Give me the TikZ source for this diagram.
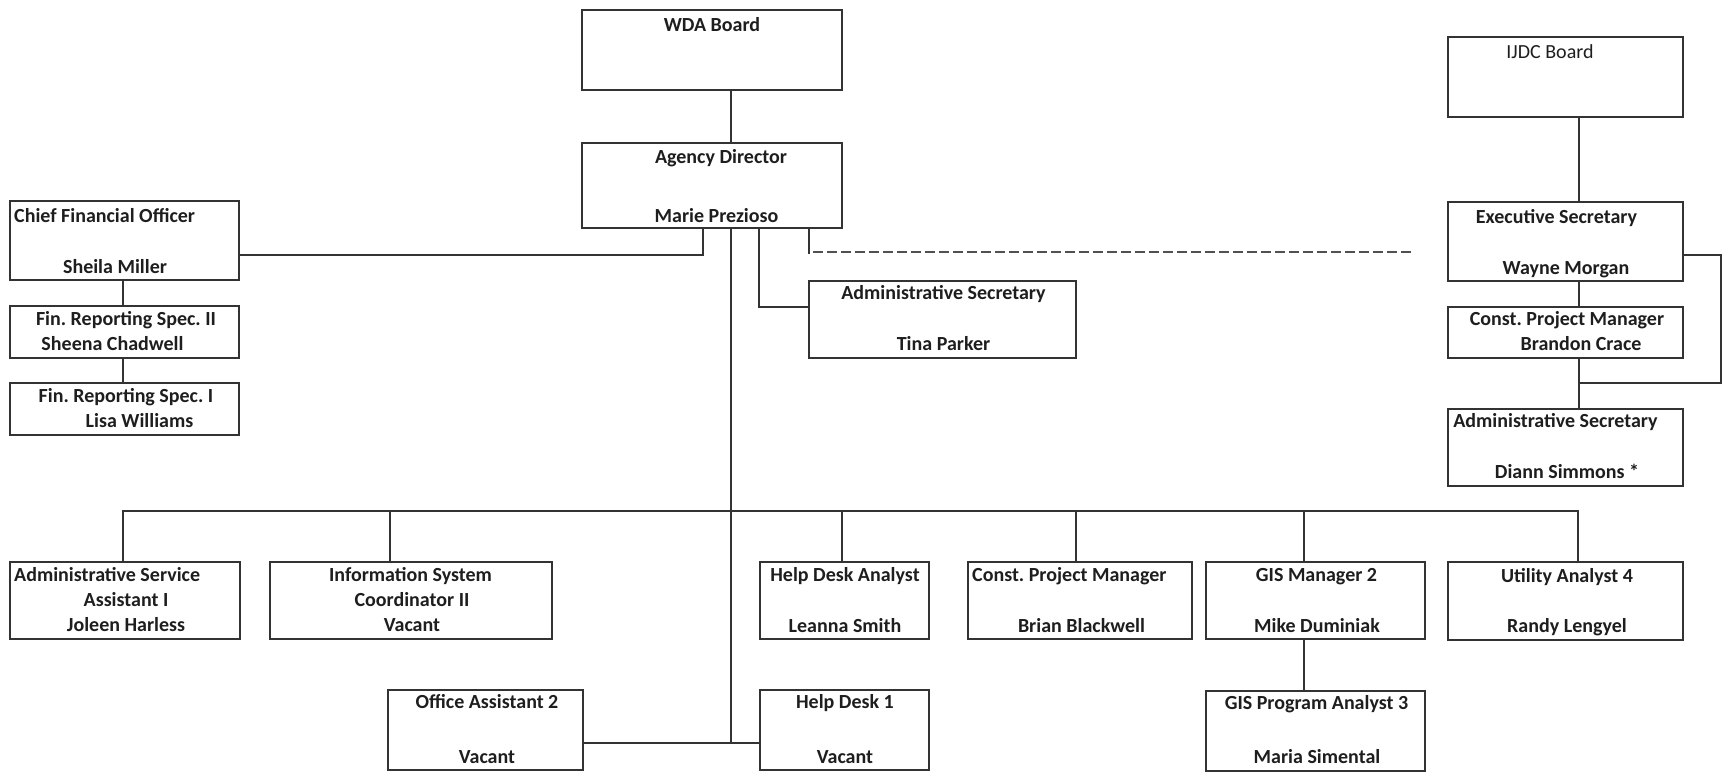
\documentclass[tikz,border=0pt]{standalone}
\usepackage{fontspec}
\setmainfont{Carlito}
\usetikzlibrary{calc}
\definecolor{ln}{HTML}{333333}
\definecolor{dln}{HTML}{505050}
\definecolor{tx}{HTML}{1E1E1E}
\tikzset{
  x=1pt, y=-1pt,
  box/.style={draw=ln, line width=1.6pt, anchor=north west, inner sep=0pt, outer sep=0pt},
  t/.style={anchor=base, inner sep=0pt, font=\bfseries\fontsize{20}{24}\selectfont\frenchspacing, text=tx},
  tl/.style={t, anchor=base west},
  treg/.style={anchor=base, inner sep=0pt, font=\fontsize{20}{24}\selectfont, text=tx},
  conn/.style={draw=ln, line width=1.6pt},
  dconn/.style={draw=dln, line width=1.3pt, dash pattern=on 9.5pt off 4.5pt},
}
\begin{document}
\frenchspacing
\begin{tikzpicture}
\fill[white] (0,0) rectangle (1722,774);
\useasboundingbox (0,0) rectangle (1722,774);

% boxes
\node[box, minimum width=260pt, minimum height=80pt] (wda) at (582,10) {};
\node[box, minimum width=260pt, minimum height=85pt] (agency) at (582,143) {};
\node[box, minimum width=229pt, minimum height=79pt] (cfo) at (10,201) {};
\node[box, minimum width=229pt, minimum height=52pt] (fin2) at (10,306) {};
\node[box, minimum width=229pt, minimum height=52pt] (fin1) at (10,383) {};
\node[box, minimum width=267pt, minimum height=77pt] (tina) at (809,281) {};
\node[box, minimum width=235pt, minimum height=80pt] (ijdc) at (1448,37) {};
\node[box, minimum width=235pt, minimum height=79pt] (exec) at (1448,202) {};
\node[box, minimum width=235pt, minimum height=51pt] (brandon) at (1448,307) {};
\node[box, minimum width=235pt, minimum height=77pt] (diann) at (1448,409) {};
\node[box, minimum width=230pt, minimum height=77pt] (ads) at (10,562) {};
\node[box, minimum width=282pt, minimum height=77pt] (isc) at (270,562) {};
\node[box, minimum width=169pt, minimum height=77pt] (hda) at (760,562) {};
\node[box, minimum width=224pt, minimum height=77pt] (brian) at (968,562) {};
\node[box, minimum width=219pt, minimum height=77pt] (gism) at (1206,562) {};
\node[box, minimum width=235pt, minimum height=78pt] (util) at (1448,562) {};
\node[box, minimum width=195pt, minimum height=80pt] (oa) at (388,690) {};
\node[box, minimum width=169pt, minimum height=80pt] (hd) at (760,690) {};
\node[box, minimum width=219pt, minimum height=80pt] (gisp) at (1206,691) {};

% junction coordinates
\coordinate (mx) at (731,0);
\coordinate (cfoj) at (703,255);
\coordinate (tj) at (759,307);
\coordinate (dj) at (809,254);
\coordinate (dend) at (1414,252);
\coordinate (bot) at (731,743);
\coordinate (b1) at (123,511);
\coordinate (b2) at (390,511);
\coordinate (b3) at (842,511);
\coordinate (b4) at (1076,511);
\coordinate (b5) at (1304,511);
\coordinate (b6) at (1578,511);
\coordinate (rx) at (1579,0);
\coordinate (lp1) at (1721,255);
\coordinate (lp2) at (1721,383);

% connectors
\draw[conn] (wda.south -| mx) -- (agency.north -| mx);
\draw[conn] (agency.south -| cfoj) -- (cfoj) -- (cfoj -| cfo.east);
\draw[conn] (agency.south -| tj) -- (tj) -- (tj -| tina.west);
\draw[conn] (agency.south -| dj) -- (dj);
\draw[dconn] ([xshift=4pt]dj |- dend) -- (dend);
\draw[conn] (agency.south -| mx) -- (bot);
\draw[conn] (oa.east |- bot) -- (hd.west |- bot);
\draw[conn] (ads.north -| b1) -- (b1) -- (b6) -- (util.north -| b6);
\draw[conn] (b2) -- (isc.north -| b2);
\draw[conn] (b3) -- (hda.north -| b3);
\draw[conn] (b4) -- (brian.north -| b4);
\draw[conn] (b5) -- (gism.north -| b5);
\draw[conn] (gism.south -| b5) -- (gisp.north -| b5);
\draw[conn] (cfo.south -| b1) -- (fin2.north -| b1);
\draw[conn] (fin2.south -| b1) -- (fin1.north -| b1);
\draw[conn] (ijdc.south -| rx) -- (exec.north -| rx);
\draw[conn] (exec.south -| rx) -- (brandon.north -| rx);
\draw[conn] (brandon.south -| rx) -- (diann.north -| rx);
\draw[conn] (exec.east |- lp1) -- (lp1) -- (lp2) -- (lp2 -| rx);

% texts
\node[t] (w1) at (712,31) {WDA Board};
\node[t] (a1) at (721,163) {Agency Director};
\node[t] (a2) at (716.5,222) {Marie Prezioso};
\node[tl] (cfo1) at (14,222) {Chief Financial Officer};
\node[t] (cfo2) at (115,273) {Sheila Miller};
\node[t] (f21) at (126,325) {Fin. Reporting Spec. II};
\node[t] (f22) at (112.5,350) {Sheena Chadwell};
\node[t] (f11) at (126,402) {Fin. Reporting Spec. I};
\node[t] (f12) at (139.5,427) {Lisa Williams};
\node[t] (tp1) at (943.5,299) {Administrative Secretary};
\node[t] (tp2) at (943.5,350) {Tina Parker};
\node[treg] (ij) at (1550,58) {IJDC Board};
\node[t] (ex1) at (1556.5,223) {Executive Secretary};
\node[t] (ex2) at (1566,274) {Wayne Morgan};
\node[t] (br1) at (1567,325) {Const. Project Manager};
\node[t] (br2) at (1581,350) {Brandon Crace};
\node[t] (di1) at (1555.5,427) {Administrative Secretary};
\node[t] (di2) at (1567,478) {Diann Simmons *};
\node[tl] (ad1) at (14,581) {Administrative Service};
\node[t] (ad2) at (126,606) {Assistant I};
\node[t] (ad3) at (126,631) {Joleen Harless};
\node[t] (is1) at (410.5,581) {Information System};
\node[t] (is2) at (412,606) {Coordinator II};
\node[t] (is3) at (412,631) {Vacant};
\node[t] (hda1) at (845,581) {Help Desk Analyst};
\node[t] (hda2) at (845,632) {Leanna Smith};
\node[t] (oa1) at (487,708) {Office Assistant 2};
\node[t] (oa2) at (487,763) {Vacant};
\node[t] (hd1) at (845,708) {Help Desk 1};
\node[t] (hd2) at (845,763) {Vacant};
\node[tl] (bb1) at (972,581) {Const. Project Manager};
\node[t] (bb2) at (1081.5,632) {Brian Blackwell};
\node[t] (gm1) at (1316.5,581) {GIS Manager 2};
\node[t] (gm2) at (1317,632) {Mike Duminiak};
\node[t] (ua1) at (1567,582) {Utility Analyst 4};
\node[t] (ua2) at (1567,632) {Randy Lengyel};
\node[t] (gp1) at (1316.5,709) {GIS Program Analyst 3};
\node[t] (gp2) at (1317,763) {Maria Simental};
\end{tikzpicture}
\end{document}
